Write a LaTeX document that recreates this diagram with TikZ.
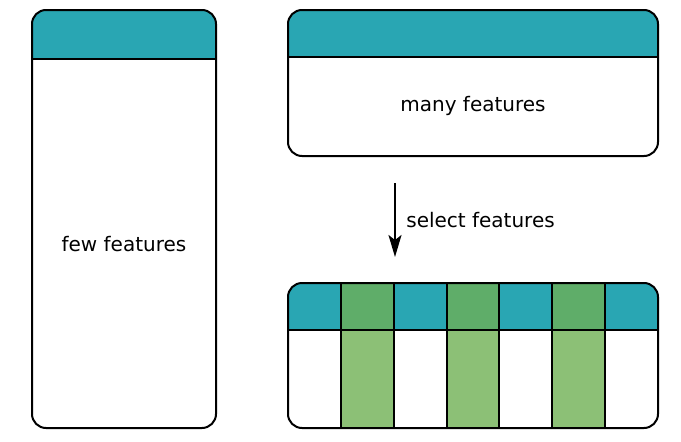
\documentclass[tikz,border=0pt]{standalone}
\usepackage{fontspec}
\setmainfont{DejaVu Sans}
\usetikzlibrary{arrows.meta}
\definecolor{headcol}{HTML}{29A6B3}
\definecolor{selcol}{HTML}{8CC076}
\definecolor{seldark}{HTML}{5FAD69}
\tikzset{
  box/.style={draw, line width=2pt, rounded corners=14pt},
  lbl/.style={font=\fontsize{20}{24}\selectfont}
}
\begin{document}
\begin{tikzpicture}[x=1pt, y=-1pt, >={Stealth[length=22pt,width=13pt,inset=5pt]}]
\useasboundingbox (0,0) rectangle (681,442);
% few features
\begin{scope}
  \clip[rounded corners=14pt] (32,10) rectangle (216,428);
  \fill[headcol] (32,10) rectangle (216,59);
\end{scope}
\draw[line width=2pt] (32,59)--(216,59);
\draw[box] (32,10) rectangle (216,428);
\node[lbl] (few) at (124,244) {few features};

% many features
\begin{scope}
  \clip[rounded corners=14pt] (288,10) rectangle (658,156);
  \fill[headcol] (288,10) rectangle (658,57);
\end{scope}
\draw[line width=2pt] (288,57)--(658,57);
\draw[box] (288,10) rectangle (658,156);
\node[lbl] (many) at (473,106) {many features};

% selected
\begin{scope}
  \clip[rounded corners=14pt] (288,283) rectangle (658,428);
  \fill[headcol] (288,283) rectangle (658,330);
  \foreach \x in {340.9,446.6,552.3}{
    \fill[selcol] (\x,283) rectangle (\x+52.8,428);
    \fill[seldark] (\x,283) rectangle (\x+52.8,330);
  }
\end{scope}
\foreach \x in {340.9,393.7,446.6,499.4,552.3,605.1}
  \draw[line width=2pt] (\x,283)--(\x,428);
\draw[line width=2pt] (288,330)--(658,330);
\draw[box] (288,283) rectangle (658,428);

\coordinate (src) at (395,183);
\coordinate (dst) at (395,257);
\draw[->, line width=2pt] (src) -- node[right, lbl, xshift=7pt] (sel) {select features} (dst);
\end{tikzpicture}
\end{document}
